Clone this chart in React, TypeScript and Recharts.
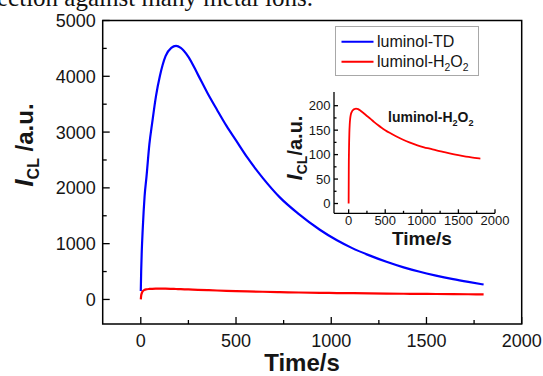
import React from "react";
import { LineChart, Line, XAxis, YAxis, ReferenceArea, Legend } from "recharts";

// ---- data ----
const timeS = [0, 2, 5, 10, 15, 20, 30, 45, 60, 80, 100, 130, 160, 185, 210, 250, 300, 350, 400, 450, 500, 560, 640, 730, 830, 940, 1030, 1110, 1200, 1290, 1380, 1460, 1550, 1640, 1720, 1800];
const luminolTD = [150, 500, 850, 1250, 1580, 1850, 2200, 2780, 3170, 3650, 4000, 4360, 4510, 4545, 4510, 4350, 4030, 3700, 3400, 3110, 2850, 2540, 2180, 1830, 1530, 1250, 1060, 920, 790, 675, 575, 500, 428, 365, 315, 268];
const luminolH2O2 = [0, 70, 110, 145, 162, 172, 182, 188, 191, 193, 194, 193, 190, 187, 184, 179, 173, 166.5, 160.5, 155, 150, 144.5, 138, 131.5, 125, 119, 115, 112, 108.5, 105.5, 102.5, 100, 97.5, 95.2, 93.5, 92];

const mainXTicks = [0, 250, 500, 750, 1000, 1250, 1500, 1750, 2000];
const mainXLabels = [0, 500, 1000, 1500, 2000];
const mainYTicks = [0, 500, 1000, 1500, 2000, 2500, 3000, 3500, 4000, 4500, 5000];
const mainYLabels = [0, 1000, 2000, 3000, 4000, 5000];
const insetXTicks = [0, 250, 500, 750, 1000, 1250, 1500, 1750, 2000];
const insetXLabels = [0, 500, 1000, 1500, 2000];
const insetYTicks = [0, 25, 50, 75, 100, 125, 150, 175, 200];
const insetYLabels = [0, 50, 100, 150, 200];
const legendOrder = ["td", "h2o2"];

const mainData = timeS.map((t, i) => ({ t, td: luminolTD[i], h2o2: luminolH2O2[i] }));
const insetData = timeS.map((t, i) => ({ t, h2o2: luminolH2O2[i] }));

const FONT = "'Liberation Sans', Arial, Helvetica, sans-serif";
const TXT = "#151515";

const makeXTick = (labels: number[], major: number, minor: number, fs: number, off: number) => (props: any) => {
  const { x, y, payload } = props;
  const isMajor = labels.includes(payload.value);
  return (
    <g>
      <line x1={x} x2={x} y1={y} y2={y - (isMajor ? major : minor)} stroke="#000" strokeWidth={1.3} />
      {isMajor && (
        <text x={x} y={y + off} textAnchor="middle" fontSize={fs} fontFamily={FONT} fill={TXT}>
          {payload.value}
        </text>
      )}
    </g>
  );
};

const makeYTick = (labels: number[], major: number, minor: number, fs: number, off: number) => (props: any) => {
  const { x, y, payload } = props;
  const isMajor = labels.includes(payload.value);
  return (
    <g>
      <line x1={x} x2={x + (isMajor ? major : minor)} y1={y} y2={y} stroke="#000" strokeWidth={1.3} />
      {isMajor && (
        <text x={x - off} y={y} dy="0.36em" textAnchor="end" fontSize={fs} fontFamily={FONT} fill={TXT}>
          {payload.value}
        </text>
      )}
    </g>
  );
};

const MainXTick = makeXTick(mainXLabels, 7, 4, 18, 23);
const MainYTick = makeYTick(mainYLabels, 7, 4, 18, 7);
const InsetXTick = makeXTick(insetXLabels, 4, 2.5, 13, 12);
const InsetYTick = makeYTick(insetYLabels, 4, 2.5, 13, 3.5);

const H2O2Label = () => (
  <tspan>
    luminol-H<tspan dy={4} fontSize="0.65em">2</tspan>
    <tspan dy={-4}>O</tspan>
    <tspan dy={4} fontSize="0.65em">2</tspan>
  </tspan>
);

const LegendContent = (props: any) => {
  const raw = props.payload || [];
  const items = legendOrder.map((k) => raw.find((p: any) => p.dataKey === k)).filter(Boolean);
  return (
    <svg width={144} height={50} style={{ display: "block" }}>
      <rect x={0.5} y={0.5} width={143} height={49} fill="#fff" stroke="#a8a8a8" strokeWidth={1} />
      {items.map((it: any, i: number) => (
        <g key={i}>
          <line x1={6.5} x2={38.5} y1={15.7 + i * 20} y2={15.7 + i * 20} stroke={it.color} strokeWidth={2} />
          <text x={42} y={15.7 + i * 20} dy="0.36em" fontSize={16} fontFamily={FONT} fill={TXT}>
            {it.dataKey === "h2o2" ? <H2O2Label /> : it.value}
          </text>
        </g>
      ))}
    </svg>
  );
};

export default function App() {
  return (
    <div style={{ position: "absolute", left: 0, top: 0, width: 543, height: 376, background: "#fff", overflow: "hidden" }}>
      <div style={{ position: "absolute", left: 0, top: 0 }}>
        <LineChart width={543} height={376} data={mainData} margin={{ top: 20.5, right: 21.3, bottom: 22, left: 42.7 }}>
          <XAxis
            dataKey="t"
            type="number"
            domain={[-200, 2000]}
            ticks={mainXTicks}
            interval={0}
            allowDataOverflow
            height={30}
            tickSize={0}
            tickMargin={0}
            tickLine={false}
            axisLine={false}
            tick={MainXTick}
          />
          <YAxis
            type="number"
            domain={[-440, 5000]}
            ticks={mainYTicks}
            interval={0}
            allowDataOverflow
            width={60}
            tickSize={0}
            tickMargin={0}
            tickLine={false}
            axisLine={false}
            tick={MainYTick}
          />
          <ReferenceArea x1={-200} x2={2000} y1={-440} y2={5000} fill="none" fillOpacity={0} stroke="#000" strokeWidth={1.5} />
          <Line type="monotone" dataKey="td" name="luminol-TD" stroke="#0000ff" strokeWidth={2.2} dot={false} isAnimationActive={false} />
          <Line type="monotone" dataKey="h2o2" name="luminol-H2O2" stroke="#ff0000" strokeWidth={2.2} dot={false} isAnimationActive={false} />
          <Legend
            layout="vertical"
            align="center"
            verticalAlign="middle"
            content={LegendContent}
            wrapperStyle={{ left: 335, top: 26, width: 144, height: 50 }}
          />
        </LineChart>
      </div>
      <div style={{ position: "absolute", left: 0, top: 0 }}>
        <LineChart width={543} height={376} data={insetData} margin={{ top: 92, right: 48, bottom: 142.7, left: 304 }}>
          <XAxis
            dataKey="t"
            type="number"
            domain={[-200, 2000]}
            ticks={insetXTicks}
            interval={0}
            allowDataOverflow
            height={20}
            tickSize={0}
            tickMargin={0}
            tickLine={false}
            axisLine={{ stroke: "#000", strokeWidth: 1.3 }}
            tick={InsetXTick}
          />
          <YAxis
            type="number"
            domain={[-20, 228]}
            ticks={insetYTicks}
            interval={0}
            allowDataOverflow
            width={30}
            tickSize={0}
            tickMargin={0}
            tickLine={false}
            axisLine={{ stroke: "#000", strokeWidth: 1.3 }}
            tick={InsetYTick}
          />
          <Line type="monotone" dataKey="h2o2" stroke="#ff0000" strokeWidth={1.8} dot={false} isAnimationActive={false} />
        </LineChart>
      </div>
      <svg width={543} height={376} style={{ position: "absolute", left: 0, top: 0, pointerEvents: "none" }}>
        <text x={-3} y={6} fontSize={25} fontFamily="'Liberation Serif', 'Times New Roman', serif" fill="#111">
          ection against many metal ions.
        </text>
        <text x={302} y={371} textAnchor="middle" fontSize={24} fontWeight="bold" fontFamily={FONT} fill={TXT}>
          Time/s
        </text>
        <text transform="rotate(-90 33 145)" x={33} y={145} textAnchor="middle" fontSize={24} fontWeight="bold" fontFamily={FONT} fill={TXT}>
          <tspan fontStyle="italic" fontSize={26}>I</tspan>
          <tspan fontSize={16} dy={6}>CL</tspan>
          <tspan dy={-6}> /a.u.</tspan>
        </text>
        <text x={422} y={245} textAnchor="middle" fontSize={19} fontWeight="bold" fontFamily={FONT} fill={TXT}>
          Time/s
        </text>
        <text transform="rotate(-90 302 148)" x={302} y={148} textAnchor="middle" fontSize={20} fontWeight="bold" fontFamily={FONT} fill={TXT}>
          <tspan fontStyle="italic" fontSize={22}>I</tspan>
          <tspan fontSize={14} dy={5}>CL</tspan>
          <tspan dy={-5}>/a.u.</tspan>
        </text>
        <text x={388} y={122} fontSize={14} fontWeight="bold" fontFamily={FONT} fill={TXT}>
          <H2O2Label />
        </text>
      </svg>
    </div>
  );
}
